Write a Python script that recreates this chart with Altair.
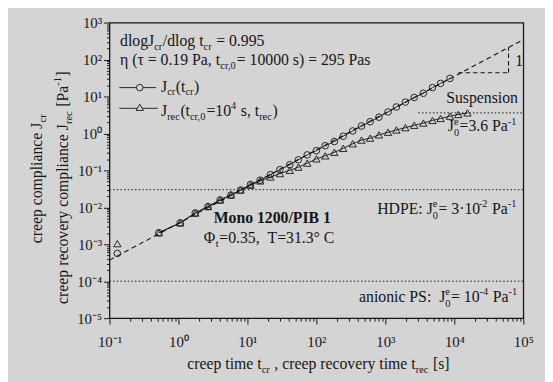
import altair as alt
import pandas as pd

# ---------------- data ----------------
t_cr = [0.13, 0.52, 1.06, 1.75, 2.68, 4.02, 5.77, 7.94, 11.1, 15.3, 21.5, 29.6, 41.1, 54.8,
        73.6, 100, 134, 182, 245, 336, 450, 601, 807, 1093, 1445, 1950, 2620, 3550, 4820,
        6310, 8630]
J_cr = [5.65e-4, 2.05e-3, 3.79e-3, 7.0e-3, 0.0105, 0.0158, 0.0215, 0.0293, 0.0416, 0.0541,
        0.0767, 0.1045, 0.142, 0.193, 0.262, 0.341, 0.464, 0.604, 0.841, 1.166, 1.585, 2.07,
        2.75, 3.81, 5.19, 7.05, 9.40, 12.2, 17.4, 22.6, 30.8]

t_rec = [0.13, 0.52, 1.06, 1.75, 2.68, 4.02, 5.77, 7.94, 11.1, 15.3, 21.5, 29.6, 41.1, 54.8,
         73.6, 100, 134, 182, 245, 336, 450, 601, 807, 1093, 1445, 1950, 2620, 3550, 4820,
         6310, 8630, 11400, 15500]
J_rec = [1.04e-3, 2.05e-3, 3.79e-3, 7.0e-3, 0.0105, 0.0158, 0.0215, 0.0293, 0.0398, 0.0519,
         0.0662, 0.0817, 0.100, 0.1225, 0.157, 0.205, 0.247, 0.308, 0.394, 0.525, 0.659,
         0.745, 0.912, 1.076, 1.24, 1.43, 1.66, 1.905, 2.25, 2.54, 2.93, 3.25, 3.59]

# power-law fit (dashed), slope 0.995
t_fit = [0.1, 1e5]
J_fit = [3.72e-4, 347]

# equilibrium compliance reference levels (dotted)
J0_level = [3.6, 3e-2, 1e-4]
J0_t_from = [3000, 0.1, 0.1]
J0_t_to = [1e5, 1e5, 1e5]

# slope triangle
tri_t_from = [11400, 61000]
tri_t_to = [61000, 61000]
tri_J_from = [43.7, 43.7]
tri_J_to = [43.7, 215]

tick_labels = ['10⁻⁵', '10⁻⁴', '10⁻³', '10⁻²', '10⁻¹', '10⁰', '10¹', '10²', '10³', '10⁴', '10⁵']

# ---------------- styling ----------------
FONT = "Liberation Serif"
INK = "#161616"
BG = "#d4d4d4"
PW, PH = 420, 300          # plot area
PX0, PY0 = 111, 20         # plot origin on the page
SS, SUB, SUP = 10.5, 4.0, -6.5

xticks = [m * 10.0 ** k for k in range(-1, 5) for m in range(1, 10)] + [1e5]
yticks = [m * 10.0 ** k for k in range(-5, 3) for m in range(1, 10)] + [1e3]

dec = "abs(log(datum.value)/LN10 - round(log(datum.value)/LN10)) < 0.001"
arr = "[" + ",".join("'%s'" % s for s in tick_labels) + "]"
label_expr = f"{dec} ? {arr}[round(log(datum.value)/LN10)+5] : ''"


def make_axis(values, pad):
    return alt.Axis(values=values, labelExpr=label_expr, title=None, grid=False, domain=False,
                    tickSize={"condition": {"test": dec, "value": 6}, "value": 3},
                    tickColor=INK, tickWidth=1, labelFont=FONT, labelFontSize=15,
                    labelColor=INK, labelPadding=pad, labelFlush=False,
                    labelOverlap=False, labelBound=False)


xscale = alt.Scale(type='log', domain=[0.1, 1e5], nice=False)
yscale = alt.Scale(type='log', domain=[1e-5, 1e3], nice=False)
X = alt.X('t:Q', scale=xscale, axis=make_axis(xticks, 11))
Y = alt.Y('J:Q', scale=yscale, axis=make_axis(yticks, 2))

df_cr = pd.DataFrame({'t': t_cr, 'J': J_cr})
df_rec = pd.DataFrame({'t': t_rec, 'J': J_rec})
df_fit = pd.DataFrame({'t': t_fit, 'J': J_fit})
df_j0 = pd.DataFrame({'t': J0_t_from, 't2': J0_t_to, 'J': J0_level})
df_tri = pd.DataFrame({'t': tri_t_from, 't2': tri_t_to, 'J': tri_J_from, 'J2': tri_J_to})
one = pd.DataFrame({'k': [0]})

layers = []
layers.append(alt.Chart(df_j0).mark_rule(strokeDash=[1.5, 2.2], color=INK, strokeWidth=1)
              .encode(x=X, x2='t2:Q', y=Y))
layers.append(alt.Chart(df_fit).mark_line(strokeDash=[5, 3.5], color=INK, strokeWidth=1.1)
              .encode(x=X, y=Y))
layers.append(alt.Chart(df_tri).mark_rule(strokeDash=[4.5, 3], color=INK, strokeWidth=1.1)
              .encode(x=X, x2='t2:Q', y=Y, y2='J2:Q'))
layers.append(alt.Chart(df_cr).transform_filter('datum.t > 0.2')
              .mark_line(color=INK, strokeWidth=0.9).encode(x=X, y=Y))
layers.append(alt.Chart(df_rec).transform_filter('datum.t > 0.2')
              .mark_line(color=INK, strokeWidth=0.9).encode(x=X, y=Y))
layers.append(alt.Chart(df_cr).mark_point(shape='circle', filled=False, size=45, color=INK,
                                          strokeWidth=0.9, opacity=1).encode(x=X, y=Y))
layers.append(alt.Chart(df_rec).mark_point(shape='triangle-up', filled=False, size=55,
                                           color=INK, strokeWidth=0.9, opacity=1)
              .encode(x=X, y=Y))

# ---------------- text helpers ----------------
ADV = {' ': 250, '(': 333, ')': 333, ',': 250, '-': 333, '.': 250, '/': 278, ':': 278,
       '=': 564, '[': 333, ']': 333, '·': 250, '°': 400, 'C': 667, 'D': 722, 'E': 611,
       'H': 722, 'J': 389, 'P': 556, 'S': 556, 'T': 611, 'a': 444, 'c': 444, 'd': 500,
       'e': 444, 'g': 500, 'i': 278, 'l': 278, 'm': 778, 'n': 500, 'o': 500, 'p': 500,
       'r': 333, 's': 389, 't': 278, 'u': 500, 'v': 500, 'y': 500, 'η': 500, 'τ': 438,
       'Φ': 763}


def tw(s, size):
    return sum(ADV.get(ch, 500) for ch in s) * size / 1000.0


def piece(s, X_, Y_, fs, bold=False, angle=0):
    return (alt.Chart(one)
            .mark_text(text=s.replace(' ', '\u00a0'), font=FONT, fontSize=fs,
                       fontWeight='bold' if bold else 'normal', color=INK, align='left',
                       baseline='alphabetic', angle=angle)
            .encode(x=alt.value(X_ - PX0), y=alt.value(Y_ - PY0)))


def rich(parts, X_, Y_, fs=16, angle=0):
    out = []
    pos = 0.0

    def place(s, p, shift, size):
        lead = len(s) - len(s.lstrip(' '))
        p = p + lead * 0.25 * size
        s = s.lstrip(' ')
        if angle == 0:
            return piece(s, X_ + p, Y_ + shift, size, angle=angle)
        return piece(s, X_ + shift, Y_ - p, size, angle=angle)

    for kind, s in parts:
        if kind == 'stack':
            sp, sb = s
            out.append(place(sp, pos, SUP, SS))
            out.append(place(sb, pos, SUB + 1, SS))
            pos += max(tw(sp, SS), tw(sb, SS)) + 0.5
            continue
        size = fs if kind == 'n' else SS
        shift = {'n': 0, 'sub': SUB, 'sup': SUP}[kind]
        out.append(place(s, pos, shift, size))
        pos += tw(s, size) + (0.6 if kind != 'n' else 0)
    return out


# top-left annotations
layers += rich([('n', 'dlogJ'), ('sub', 'cr'), ('n', '/dlog t'), ('sub', 'cr'),
                ('n', ' = 0.995')], 121.7, 44)
layers += rich([('n', 'η (τ = 0.19 Pa, t'), ('sub', 'cr,0'),
                ('n', '= 10000 s) = 295 Pas')], 121.7, 63.5)

# legend glyphs
layers.append(alt.Chart(one).mark_rule(color=INK, strokeWidth=0.9)
              .encode(x=alt.value(121 - PX0), x2=alt.value(158.3 - PX0), y=alt.value(86 - PY0)))
layers.append(alt.Chart(one).mark_point(shape='circle', filled=True, fill=BG, stroke=INK,
                                        strokeWidth=0.9, size=45, opacity=1)
              .encode(x=alt.value(141.7 - PX0), y=alt.value(86 - PY0)))
layers.append(alt.Chart(one).mark_rule(color=INK, strokeWidth=0.9)
              .encode(x=alt.value(121 - PX0), x2=alt.value(160 - PX0), y=alt.value(107 - PY0)))
layers.append(alt.Chart(one).mark_point(shape='triangle-up', filled=True, fill=BG, stroke=INK,
                                        strokeWidth=0.9, size=55, opacity=1)
              .encode(x=alt.value(141.7 - PX0), y=alt.value(106 - PY0)))
layers += rich([('n', 'J'), ('sub', 'cr'), ('n', '(t'), ('sub', 'cr'), ('n', ')')], 163.3, 90)
layers += rich([('n', 'J'), ('sub', 'rec'), ('n', '(t'), ('sub', 'cr,0'), ('n', '=10'),
                ('sup', '4'), ('n', ' s, t'), ('sub', 'rec'), ('n', ')')], 163.3, 114.5)

# right side annotations
layers += rich([('n', 'Suspension')], 452.7, 101.7)
layers += rich([('n', 'J'), ('stack', ('e', '0')), ('n', '=3.6 Pa'), ('sup', '-1')], 454.3, 130)
layers += rich([('n', '1')], 522.7, 64.3)
layers += rich([('n', 'HDPE: J'), ('stack', ('e', '0')), ('n', '= 3·10'), ('sup', '-2'),
                ('n', ' Pa'), ('sup', '-1')], 382.7, 214)
layers.append(piece('Mono 1200/PIB 1', 216.7, 223.3, 16, bold=True))
layers += rich([('n', 'Φ'), ('sub', 't'), ('n', '=0.35,  T=31.3° C')], 206.7, 244)
layers += rich([('n', 'anionic PS:  J'), ('stack', ('e', '0')), ('n', '= 10'), ('sup', '-4'),
                ('n', ' Pa'), ('sup', '-1')], 364.3, 303.3)

# axis titles
layers += rich([('n', 'creep time t'), ('sub', 'cr'), ('n', ' , creep recovery time t'),
                ('sub', 'rec'), ('n', ' [s]')], 190, 371.7)
layers += rich([('n', 'creep compliance J'), ('sub', 'cr')], 43, 244, angle=270)
layers += rich([('n', 'creep recovery compliance J'), ('sub', 'rec'), ('n', ' [Pa'),
                ('sup', '-1'), ('n', ']')], 68.5, 305.5, angle=270)

chart = (alt.layer(*layers)
         .properties(width=PW, height=PH, autosize=alt.AutoSizeParams(type='none'),
                     padding={'left': 103, 'top': 12, 'right': 22, 'bottom': 62})
         .configure(background=BG, font=FONT)
         .configure_view(stroke=INK, strokeWidth=1.3))

chart.save("out.html", embed_options={"renderer": "svg", "actions": False})
